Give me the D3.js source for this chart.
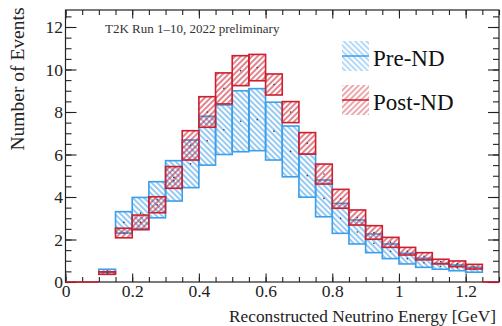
<!DOCTYPE html>
<html>
<head>
<meta charset="utf-8">
<script src="https://cdn.jsdelivr.net/npm/d3@7"></script>
<style>
  body { margin: 0; background: #fff; }
  svg { display: block; font-family: "Liberation Serif", "Times New Roman", serif; }
</style>
</head>
<body>
<svg id="chart" width="502" height="326"></svg>
<script>
// bin low edges (GeV), width 0.05
const binLow = [0.10, 0.15, 0.20, 0.25, 0.30, 0.35, 0.40, 0.45, 0.50, 0.55, 0.60, 0.65,
                0.70, 0.75, 0.80, 0.85, 0.90, 0.95, 1.00, 1.05, 1.10, 1.15, 1.20];
const binWidth = 0.05;

// Pre-ND error band
const preLow  = [0.45, 2.30, 2.50, 3.02, 3.81, 4.44, 5.50, 6.00, 6.13, 6.18, 5.74, 4.95,
                 3.99, 3.07, 2.29, 1.79, 1.38, 1.10, 0.85, 0.69, 0.60, 0.53, 0.46];
const preHigh = [0.60, 3.31, 3.98, 4.72, 5.71, 6.68, 7.80, 8.33, 9.00, 9.10, 8.46, 7.34,
                 6.02, 4.80, 3.70, 2.92, 2.26, 1.79, 1.35, 1.12, 0.88, 0.80, 0.69];

// Post-ND error band
const postLow  = [0.36, 2.08, 2.46, 3.26, 4.41, 5.74, 7.28, 8.38, 9.24, 9.47, 8.80, 7.50,
                  6.02, 4.61, 3.47, 2.68, 2.01, 1.63, 1.27, 1.04, 0.85, 0.72, 0.61];
const postHigh = [0.48, 2.53, 3.15, 4.01, 5.43, 7.12, 8.72, 9.84, 10.65, 10.71, 9.79, 8.49,
                  7.03, 5.55, 4.36, 3.39, 2.65, 2.10, 1.63, 1.38, 1.07, 0.99, 0.83];

// empty Post-ND bins drawn at zero
const emptyRanges = [[0, 0.10], [1.25, 1.30]];

const xMajor = [0, 0.2, 0.4, 0.6, 0.8, 1.0, 1.2];
const xMinor = d3.range(0, 27).map(i => +(i * 0.05).toFixed(2));
const yMajor = [0, 2, 4, 6, 8, 10, 12];
const yMinor = d3.range(0, 26).map(i => i * 0.5);

const BLUE = '#3d9ee9';
const RED = '#cc1f2f';

const svg = d3.select('#chart');
const plotL = 65.5, plotR = 499, plotT = 10, plotB = 282;

const x = d3.scaleLinear().domain([0, 1.3]).range([plotL, plotR]);
const y = d3.scaleLinear().domain([0, 12.8]).range([plotB, plotT]);

// hatch patterns
const defs = svg.append('defs');
function hatch(id, color, angle) {
  defs.append('pattern')
    .attr('id', id)
    .attr('patternUnits', 'userSpaceOnUse')
    .attr('width', 4).attr('height', 4)
    .attr('patternTransform', `rotate(${angle})`)
    .append('line')
    .attr('x1', 2).attr('y1', -1).attr('x2', 2).attr('y2', 5)
    .attr('stroke', color)
    .attr('stroke-width', 1.1);
}
hatch('hatchBlue', BLUE, -45);
hatch('hatchRed', RED, 45);

function band(lo, hi, pat, color) {
  const g = svg.append('g');
  binLow.forEach((b, i) => {
    g.append('rect')
      .attr('x', x(b))
      .attr('y', y(hi[i]))
      .attr('width', x(b + binWidth) - x(b))
      .attr('height', y(lo[i]) - y(hi[i]))
      .attr('fill', `url(#${pat})`)
      .attr('stroke', color)
      .attr('stroke-width', 1.6);
    g.append('circle')
      .attr('cx', x(b + binWidth / 2))
      .attr('cy', y((lo[i] + hi[i]) / 2))
      .attr('r', 0.8)
      .attr('fill', '#334');
  });
}

band(preLow, preHigh, 'hatchBlue', BLUE);
band(postLow, postHigh, 'hatchRed', RED);

// axes with inward ticks, ROOT-like
function drawAxis(gen, scale, transform, major, minor, majLen, minLen, fmt) {
  const gm = svg.append('g').attr('transform', transform)
    .call(gen(scale).tickValues(minor).tickSize(-minLen).tickFormat(''));
  gm.select('.domain').remove();
  gm.selectAll('line').attr('stroke', '#222').attr('stroke-width', 1.1);
  const gM = svg.append('g').attr('transform', transform)
    .call(gen(scale).tickValues(major).tickSize(-majLen).tickPadding(fmt ? 2.5 : 0)
      .tickFormat(fmt || ''));
  gM.select('.domain').remove();
  gM.selectAll('line').attr('stroke', '#222').attr('stroke-width', 1.1);
  gM.selectAll('text')
    .attr('font-family', '"Liberation Serif", "Times New Roman", serif')
    .attr('font-size', 17.5)
    .attr('fill', '#222');
  return gM;
}

const fmt = d => d3.format('~g')(d);
drawAxis(d3.axisBottom, x, `translate(0,${plotB})`, xMajor, xMinor, 8.5, 5, fmt);
drawAxis(d3.axisTop, x, `translate(0,${plotT})`, xMajor, xMinor, 8.5, 5, null);
drawAxis(d3.axisLeft, y, `translate(${plotL},0)`, yMajor, yMinor, 11, 6, fmt);
drawAxis(d3.axisRight, y, `translate(${plotR},0)`, yMajor, yMinor, 11, 6, null);

// frame
svg.append('rect')
  .attr('x', plotL).attr('y', plotT)
  .attr('width', plotR - plotL).attr('height', plotB - plotT)
  .attr('fill', 'none').attr('stroke', '#222').attr('stroke-width', 1.2);

// empty bins of the Post-ND histogram
emptyRanges.forEach(r => {
  svg.append('line')
    .attr('x1', x(r[0])).attr('x2', x(r[1]))
    .attr('y1', y(0)).attr('y2', y(0))
    .attr('stroke', RED).attr('stroke-width', 1.6);
});

// labels
svg.append('text')
  .attr('x', 105).attr('y', 33)
  .attr('font-size', 13).attr('fill', '#333')
  .text('T2K Run 1–10, 2022 preliminary');

svg.append('text')
  .attr('transform', 'translate(24,79) rotate(-90)')
  .attr('text-anchor', 'middle')
  .attr('font-size', 19.5).attr('fill', '#222')
  .text('Number of Events');

svg.append('text')
  .attr('x', 496).attr('y', 322)
  .attr('text-anchor', 'end')
  .attr('font-size', 17.3).attr('fill', '#222')
  .text('Reconstructed Neutrino Energy [GeV]');

// legend
const legend = [
  { name: 'Pre-ND', pat: 'hatchBlue', color: BLUE, y0: 41 },
  { name: 'Post-ND', pat: 'hatchRed', color: RED, y0: 85 }
];
legend.forEach(l => {
  svg.append('rect')
    .attr('x', 342).attr('y', l.y0)
    .attr('width', 27).attr('height', 30)
    .attr('fill', `url(#${l.pat})`)
    .attr('opacity', 0.7);
  svg.append('line')
    .attr('x1', 342).attr('x2', 369)
    .attr('y1', l.y0 + 15).attr('y2', l.y0 + 15)
    .attr('stroke', l.color).attr('stroke-width', 1.5);
  svg.append('text')
    .attr('x', 373).attr('y', l.y0 + 24.5)
    .attr('font-size', 23).attr('fill', '#111')
    .text(l.name);
});
</script>
</body>
</html>
